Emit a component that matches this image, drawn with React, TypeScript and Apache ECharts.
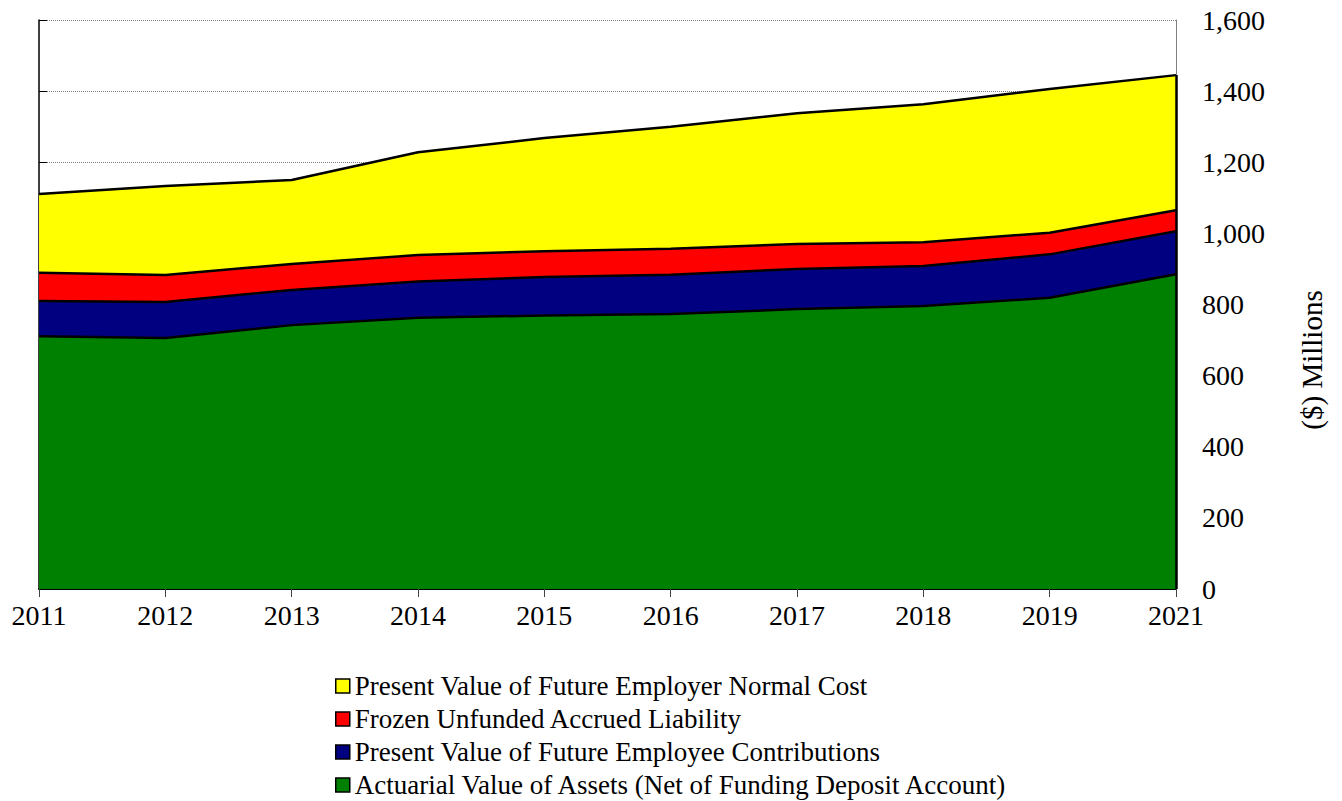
import React, { useEffect, useRef } from "react";
import * as echarts from "echarts";

const years = ["2011", "2012", "2013", "2014", "2015", "2016", "2017", "2018", "2019", "2021"];
const assets = [711, 706, 742, 763, 769, 773, 787, 796, 819, 885];
const employeeContrib = [99, 101, 99, 102, 108, 111, 113, 112, 122, 121];
const frozenUAL = [79, 76, 73, 74, 73, 73, 70, 67, 61, 59];
const employerNormalCost = [222, 250, 236, 289, 318, 343, 368, 388, 404, 380];
const yTicks = [0, 200, 400, 600, 800, 1000, 1200, 1400, 1600];

const names = {
  yellow: "Present Value of Future Employer Normal Cost",
  red: "Frozen Unfunded Accrued Liability",
  blue: "Present Value of Future Employee Contributions",
  green: "Actuarial Value of Assets (Net of Funding Deposit Account)",
};

const FONT = '"Liberation Serif", "Times New Roman", serif';

export default function App() {
  const ref = useRef<HTMLDivElement>(null);
  useEffect(() => {
    if (!ref.current) return;
    const chart = echarts.init(ref.current, null, { renderer: "svg" });
    const last = years.length - 1;
    const totalLast =
      assets[last] + employeeContrib[last] + frozenUAL[last] + employerNormalCost[last];
    const lineStyle = { color: "#000", width: 2.5 };
    const mk = (name: string, data: number[], color: string, extra: any = {}) => ({
      name,
      type: "line",
      stack: "total",
      data,
      symbol: "none",
      lineStyle,
      areaStyle: { color, opacity: 1 },
      itemStyle: { color },
      ...extra,
    });
    chart.setOption({
      animation: false,
      textStyle: { fontFamily: FONT },
      grid: { left: 39, right: 166, top: 20, bottom: 212, containLabel: false },
      legend: {
        orient: "vertical",
        left: 335,
        top: 672,
        bottom: 0,
        padding: 0,
        icon: "rect",
        itemWidth: 14,
        itemHeight: 14,
        itemGap: 5,
        data: [names.yellow, names.red, names.blue, names.green],
        itemStyle: { borderColor: "#000", borderWidth: 1.5 },
        textStyle: { fontFamily: FONT, fontSize: 27, color: "#000", lineHeight: 28 },
      },
      xAxis: {
        type: "category",
        data: years,
        boundaryGap: false,
        axisLine: { lineStyle: { color: "#000", width: 2 } },
        axisTick: { show: true, inside: false, length: 8, lineStyle: { color: "#444" } },
        axisLabel: { fontFamily: FONT, fontSize: 28, color: "#000", margin: 12 },
        splitLine: { show: false },
      },
      yAxis: [
        {
          type: "value",
          position: "right",
          min: yTicks[0],
          max: yTicks[yTicks.length - 1],
          interval: 200,
          axisLine: { show: true, lineStyle: { color: "#808080", width: 1 } },
          axisTick: { show: false },
          axisLabel: {
            fontFamily: FONT,
            fontSize: 28,
            color: "#000",
            margin: 26,
            formatter: (v: number) => v.toLocaleString("en-US"),
          },
          splitLine: { show: true, lineStyle: { color: "#808080", type: "dotted", width: 1 } },
        },
        {
          type: "value",
          position: "left",
          min: yTicks[0],
          max: yTicks[yTicks.length - 1],
          interval: 200,
          axisLine: { show: true, lineStyle: { color: "#000", width: 1.5 } },
          axisTick: { show: true, inside: true, length: 8, lineStyle: { color: "#000" } },
          axisLabel: { show: false },
          splitLine: { show: false },
        },
      ],
      graphic: [
        {
          type: "text",
          x: 1312,
          y: 360,
          rotation: Math.PI / 2,
          style: {
            text: "($) Millions",
            fontFamily: FONT,
            fontSize: 29,
            fill: "#000",
            align: "center",
            verticalAlign: "middle",
          },
        },
      ],
      series: [
        mk(names.green, assets, "#008000", {
          markLine: {
            silent: true,
            symbol: "none",
            label: { show: false },
            lineStyle: { color: "#000", width: 2.5, type: "solid" },
            data: [[{ coord: [years[last], 0] }, { coord: [years[last], totalLast] }]],
          },
        }),
        mk(names.blue, employeeContrib, "#000080"),
        mk(names.red, frozenUAL, "#FF0000"),
        mk(names.yellow, employerNormalCost, "#FFFF00"),
      ],
    });
    return () => chart.dispose();
  }, []);
  return (
    <div
      ref={ref}
      style={{ position: "absolute", left: 0, top: 0, width: 1342, height: 801, background: "#fff" }}
    />
  );
}
